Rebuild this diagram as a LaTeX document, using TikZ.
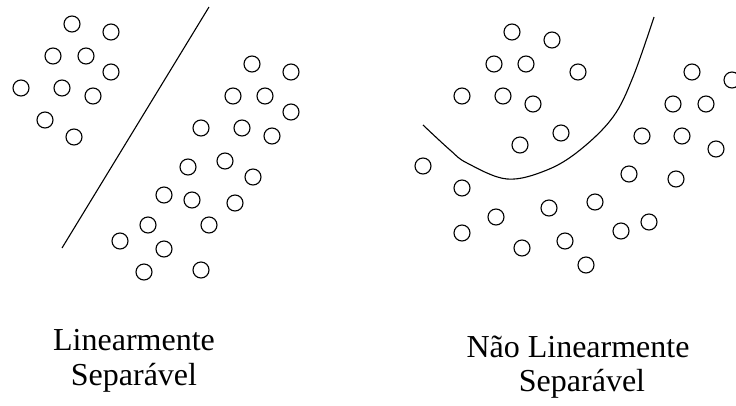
\documentclass[tikz,border=0pt]{standalone}
\usepackage{fontspec}
\setmainfont{Liberation Serif}

\begin{document}
\begin{tikzpicture}[x = 1pt, y = -1pt, line width = 1.1pt,
	rotulo/.style = {anchor = base, inner sep = 0pt, font = \fontsize{32}{38}\selectfont}]

	% Frame
	
	\useasboundingbox (0, 0) rectangle (736, 405);
	\clip (0, 0) rectangle (736, 405);
	
	% Left: points
	
	\foreach \x/\y in {72/24, 111/32, 53/56, 86/56, 111/72, 21/88, 62/88, 93/96, 45/120, 74/137,
		252/64, 291/72, 233/96, 265/96, 291/112, 201/128, 242/128, 272/136, 188/167, 225/161,
		253/177, 164/195, 192/200, 235/203, 148/225, 209/225, 120/241, 164/249, 144/272, 201/270}
		\draw (\x, \y) circle [radius = 8pt];
	
	% Left: line
	
	\draw (209, 7) -- (62, 248);
	
	% Right: points
	
	\foreach \x/\y in {512/32, 552/40, 494/64, 526/64, 578/72, 462/96, 503/96, 533/104, 561/133, 520/145,
		692/72, 732/80, 673/104, 706/104, 642/136, 682/136, 716/149, 629/174, 676/179, 595/202,
		649/222, 621/231, 423/166, 462/188, 496/217, 549/208, 462/233, 522/248, 565/241, 586/265}
		\draw (\x, \y) circle [radius = 8pt];
	
	% Right: curve
	
	\draw plot [smooth, tension = 0.6] coordinates {(423, 125) (450, 150) (467, 163) (507, 179) (547, 170) (580, 150) (613, 117) (633, 77) (654, 17)};
	
	% Labels
	
	\node [rotulo] (lin1) at (134, 350) {Linearmente};
	\node [rotulo] (lin2) at (134, 385) {Separável};
	\node [rotulo] (nlin1) at (578, 357) {Não Linearmente};
	\node [rotulo] (nlin2) at (582, 391) {Separável};

\end{tikzpicture}
\end{document}
